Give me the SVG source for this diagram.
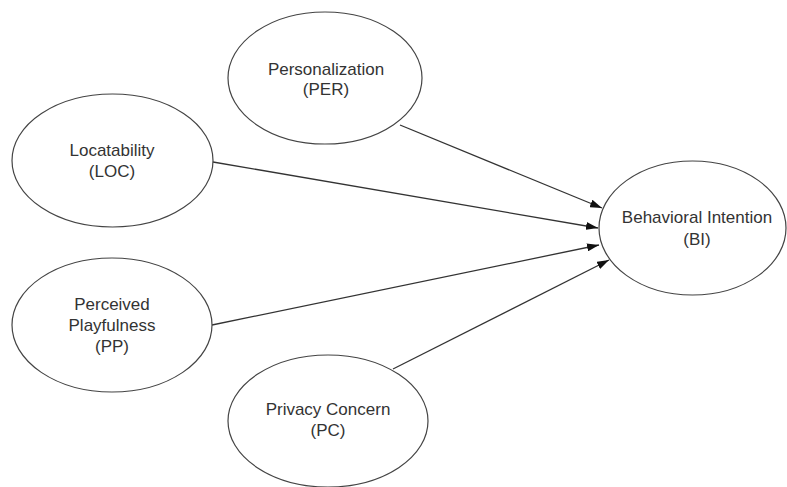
<svg xmlns="http://www.w3.org/2000/svg" width="787" height="487" viewBox="0 0 787 487">
<defs>
<style>
.node ellipse{fill:#fff;stroke:#444;stroke-width:1.2}
.node text{font-family:"Liberation Sans",Arial,sans-serif;font-size:17px;fill:#333;text-anchor:middle}
.edge{stroke:#333;stroke-width:1.3;fill:none;marker-end:url(#arr)}
</style>
<marker id="arr" viewBox="0 0 12 8" refX="12" refY="4" markerWidth="12" markerHeight="8" markerUnits="userSpaceOnUse" orient="auto">
<path d="M0,0 L12,4 L0,8 z" fill="#111"/>
</marker>
</defs>
<rect width="787" height="487" fill="#fff"/>
<g id="connectors">
<line class="edge" x1="400" y1="125" x2="602" y2="208"/>
<line class="edge" x1="213" y1="162" x2="598" y2="228"/>
<line class="edge" x1="212" y1="325" x2="599" y2="245"/>
<line class="edge" x1="393" y1="369" x2="609" y2="260"/>
</g>
<g id="PER" class="node">
<ellipse cx="325" cy="78" rx="97" ry="66"/>
<text x="326" y="75">Personalization</text>
<text x="326" y="95">(PER)</text>
</g>
<g id="LOC" class="node">
<ellipse cx="112.5" cy="160.5" rx="100.5" ry="66.5"/>
<text x="112" y="156">Locatability</text>
<text x="112" y="177">(LOC)</text>
</g>
<g id="BI" class="node">
<ellipse cx="692.5" cy="228" rx="93.5" ry="67"/>
<text x="697" y="223">Behavioral Intention</text>
<text x="697" y="245">(BI)</text>
</g>
<g id="PP" class="node">
<ellipse cx="112" cy="325" rx="100" ry="67"/>
<text x="112" y="310">Perceived</text>
<text x="112" y="331">Playfulness</text>
<text x="112" y="352">(PP)</text>
</g>
<g id="PC" class="node">
<ellipse cx="328" cy="421" rx="100" ry="66"/>
<text x="328" y="415">Privacy Concern</text>
<text x="328" y="436">(PC)</text>
</g>
</svg>
